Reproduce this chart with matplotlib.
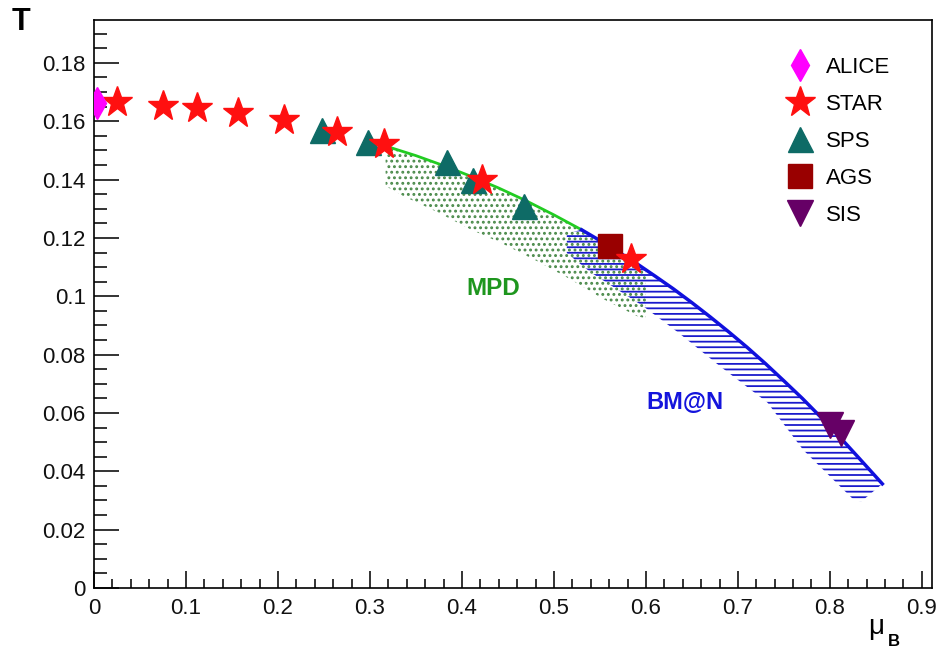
import matplotlib
matplotlib.use("Agg")
import matplotlib.pyplot as plt
from matplotlib.ticker import MultipleLocator

plt.rcParams['font.family'] = ['Liberation Sans', 'DejaVu Sans']
plt.rcParams['hatch.linewidth'] = 1.3

# freeze-out points (mu_B, T) in GeV
alice_mu = [0.003]
alice_t = [0.1663]
star_mu = [0.0255, 0.0745, 0.1125, 0.157, 0.207, 0.2647, 0.3158, 0.4223, 0.584]
star_t = [0.1667, 0.1653, 0.1646, 0.1629, 0.1605, 0.1564, 0.1522, 0.1399, 0.1127]
sps_mu = [0.2484, 0.298, 0.384, 0.4125, 0.467]
sps_t = [0.157, 0.153, 0.146, 0.140, 0.131]
ags_mu = [0.561]
ags_t = [0.1172]
sis_mu = [0.800, 0.812]
sis_t = [0.0560, 0.0533]

# freeze-out curve, MPD part (green) and BM@N part (blue)
mpd_line_mu = [0.317, 0.35, 0.38, 0.41, 0.44, 0.47, 0.50, 0.53]
mpd_line_t = [0.1515, 0.1482, 0.1448, 0.1411, 0.1371, 0.1327, 0.1279, 0.1228]
bmn_line_mu = [0.53, 0.55, 0.57, 0.59, 0.61, 0.63, 0.65, 0.67, 0.69, 0.71,
               0.73, 0.75, 0.77, 0.79, 0.81, 0.83, 0.857]
bmn_line_t = [0.1228, 0.1191, 0.1152, 0.1112, 0.1069, 0.1025, 0.0978, 0.0929, 0.0878, 0.0825,
              0.0769, 0.0710, 0.0650, 0.0586, 0.0520, 0.0451, 0.0357]

# MPD band outline
mpd_band_mu = [0.317, 0.35, 0.38, 0.41, 0.44, 0.47, 0.50, 0.53, 0.57, 0.60,
               0.600, 0.591, 0.554, 0.518, 0.482, 0.445, 0.409, 0.373, 0.336, 0.317]
mpd_band_t = [0.1515, 0.1482, 0.1448, 0.1411, 0.1371, 0.1327, 0.1279, 0.1228, 0.1152, 0.1089,
              0.0925, 0.0931, 0.0990, 0.1058, 0.1120, 0.1179, 0.1230, 0.1289, 0.1344, 0.1378]

# BM@N band outline
bmn_band_mu = [0.514, 0.53, 0.55, 0.57, 0.59, 0.61, 0.63, 0.65, 0.67, 0.69, 0.71,
               0.73, 0.75, 0.77, 0.79, 0.81, 0.83, 0.857,
               0.834, 0.826, 0.771, 0.732, 0.681, 0.635, 0.597, 0.540, 0.514]
bmn_band_t = [0.1215, 0.1228, 0.1191, 0.1152, 0.1112, 0.1069, 0.1025, 0.0978, 0.0929, 0.0878, 0.0825,
              0.0769, 0.0710, 0.0650, 0.0586, 0.0520, 0.0451, 0.0357,
              0.0296, 0.0302, 0.0473, 0.0636, 0.0759, 0.0876, 0.0966, 0.1082, 0.1148]

fig = plt.figure(figsize=(9.38, 6.48), dpi=100)
ax = fig.add_axes([94 / 938, 1 - 588 / 648, (932 - 94) / 938, (588 - 20) / 648])

ax.fill(mpd_band_mu, mpd_band_t, facecolor='none', edgecolor='#4a8a4a',
        hatch='...', linewidth=0, zorder=1)
ax.fill(bmn_band_mu, bmn_band_t, facecolor='none', edgecolor='#1a1acc',
        hatch='---', linewidth=0, zorder=1)

ax.plot(mpd_line_mu, mpd_line_t, color='#22cc22', lw=2, zorder=2)
ax.plot(bmn_line_mu, bmn_line_t, color='#1010dd', lw=2.5, zorder=2)

ax.plot(sps_mu, sps_t, '^', color='#0e6b66', ms=18, ls='none', label='SPS', zorder=3)
ax.plot(ags_mu, ags_t, 's', color='#990000', ms=17, ls='none', label='AGS', zorder=3)
ax.plot(sis_mu, sis_t, 'v', color='#660066', ms=19, ls='none', label='SIS', zorder=3)
ax.plot(star_mu, star_t, '*', color='#ff1010', ms=23, ls='none', label='STAR', zorder=4)
ax.plot(alice_mu, alice_t, 'd', color='#ff00ff', ms=16, ls='none', label='ALICE', zorder=5)

ax.text(0.434, 0.1027, 'MPD', color='#1e961e', fontsize=17.5, fontweight='bold',
        ha='center', va='center')
ax.text(0.642, 0.0636, 'BM@N', color='#1414dc', fontsize=17, fontweight='bold',
        ha='center', va='center')

ax.set_xlim(0, 0.911)
ax.set_ylim(0, 0.1947)
ax.xaxis.set_major_locator(MultipleLocator(0.1))
ax.xaxis.set_minor_locator(MultipleLocator(0.02))
ax.yaxis.set_major_locator(MultipleLocator(0.02))
ax.yaxis.set_minor_locator(MultipleLocator(0.005))
ax.xaxis.set_major_formatter(plt.FuncFormatter(lambda v, p: f"{v:g}"))
ax.yaxis.set_major_formatter(plt.FuncFormatter(lambda v, p: f"{v:g}"))
ax.tick_params(axis='both', which='both', direction='in', top=False, right=False,
               labelsize=16, width=1.2, colors='#111111')
ax.tick_params(axis='x', which='major', length=12, pad=7)
ax.tick_params(axis='x', which='minor', length=6.5)
ax.tick_params(axis='y', which='major', length=18, pad=6)
ax.tick_params(axis='y', which='minor', length=9.5)
for sp in ax.spines.values():
    sp.set_linewidth(1.2)

fig.text(21 / 938, 1 - 22 / 648, 'T', fontsize=22, fontweight='bold', ha='center', va='center')
fig.text(876 / 938, 1 - 627 / 648, 'μ', fontsize=20, ha='center', va='center')
fig.text(894 / 938, 1 - 641 / 648, 'B', fontsize=12, fontweight='bold', ha='center', va='center')

handles, labels = ax.get_legend_handles_labels()
order = [labels.index(n) for n in ['ALICE', 'STAR', 'SPS', 'AGS', 'SIS']]
leg = ax.legend([handles[i] for i in order], [labels[i] for i in order],
                loc='upper left', bbox_to_anchor=(789 / 938, 1 - 57 / 648),
                bbox_transform=fig.transFigure, frameon=False, fontsize=16,
                handlelength=1.0, handletextpad=0.65, labelspacing=0.72,
                borderpad=0, borderaxespad=0, numpoints=1)

fig.savefig('out.png', dpi=100)
